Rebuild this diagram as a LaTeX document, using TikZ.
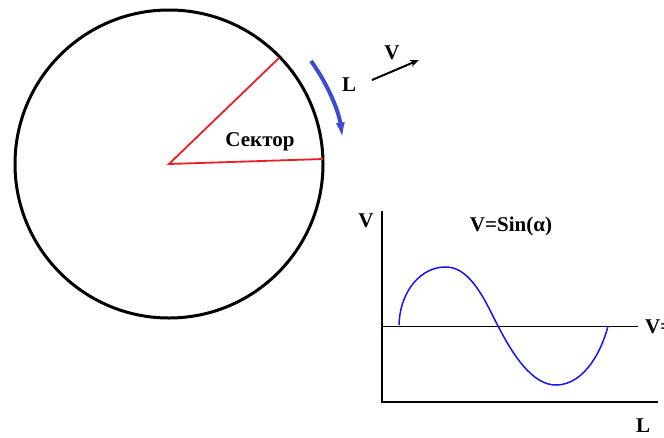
\documentclass[tikz,border=0pt]{standalone}
\usepackage{fontspec}
\setmainfont{Liberation Serif}
\usetikzlibrary{arrows.meta}
\definecolor{sred}{RGB}{235,30,35}
\definecolor{sblue}{RGB}{65,75,210}
\definecolor{cblue}{RGB}{20,20,245}
\tikzset{
  lbl/.style={font=\fontsize{21}{25}\selectfont\bfseries, inner sep=0pt},
  axis/.style={line width=2.2pt, black},
}
\begin{document}
\begin{tikzpicture}[x=1pt,y=-1pt]
\useasboundingbox (0,0) rectangle (664,437);
\clip (0,0) rectangle (664,437);
% circle
\coordinate (O) at (169,164);
\draw[line width=3pt] (O) circle (154);
\coordinate (A) at (279,58);
\coordinate (B) at (323,159);
\draw[sred, line width=1.8pt, line join=miter] (A) -- (O) -- (B);
\node[lbl] (sec) at (260,142) {Сектор};
% blue arc arrow
\draw[sblue, line width=4pt, -{Latex[length=17pt,width=9pt]}] (311,61) arc[start angle=-36, end angle=-8, radius=175];
% velocity
\coordinate (v1) at (372,80);
\coordinate (v2) at (419,60);
\draw[line width=2pt, -{Stealth[length=9pt,width=7pt]}] (v1) -- (v2);
\node[lbl] (Vl) at (392,53) {V};
\node[lbl] (Ll) at (349,85) {L};
% graph
\coordinate (yt) at (382,211);
\coordinate (org) at (382,402);
\coordinate (xe) at (658,402);
\draw[axis] (yt) -- (org) -- (xe);
\coordinate (h1) at (382,326);
\coordinate (h2) at (638,326);
\draw[line width=0.8pt] (h1) -- (h2);
\node[lbl, anchor=west] (Ve) at (645,327) {V=};
\node[lbl] (Vy) at (366,221) {V};
\node[lbl] (Lx) at (643,426) {L};
\node[lbl] (eq) at (511,226) {V=Sin(α)};
\draw[cblue, line width=1.5pt] (399,325) .. controls (400,290) and (422,266) .. (447,267)
  .. controls (472,268) and (487,305) .. (498,326)
  .. controls (512,353) and (532,386) .. (557,385)
  .. controls (585,384) and (602,350) .. (608,326);
\end{tikzpicture}
\end{document}
